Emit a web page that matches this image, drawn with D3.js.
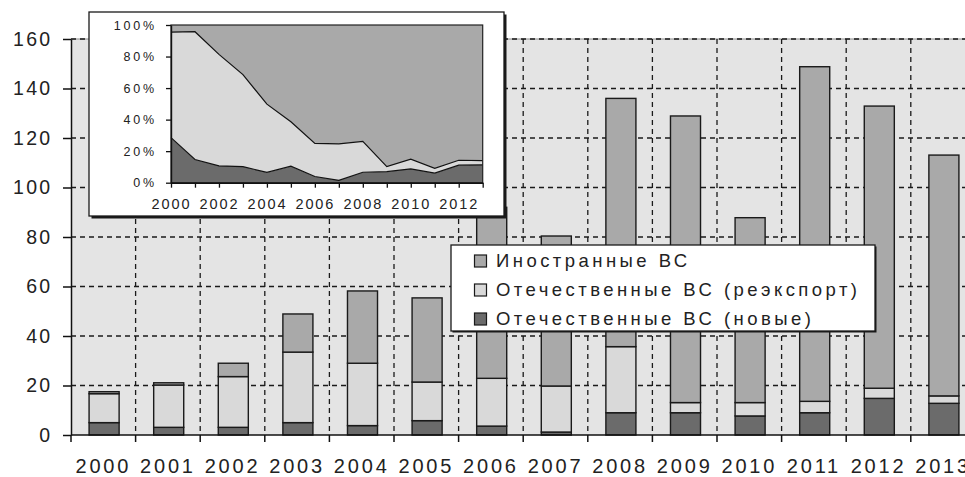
<!DOCTYPE html>
<html>
<head>
<meta charset="utf-8">
<script src="https://cdn.jsdelivr.net/npm/d3@7"></script>
<style>
  body { margin: 0; background: #fff; }
  svg { display: block; font-family: "Liberation Sans", Arial, sans-serif; }
</style>
</head>
<body>
<svg id="graph"></svg>
<script>
// data (aircraft deliveries, units)
var years = ["2000","2001","2002","2003","2004","2005","2006","2007","2008","2009","2010","2011","2012","2013"];
var newDomestic = [5.0, 3.1, 3.1, 5.0, 3.8, 5.8, 3.6, 1.2, 9.0, 9.0, 7.7, 9.0, 14.8, 12.8];
var reexport    = [11.7, 17.1, 20.5, 28.5, 25.2, 15.6, 19.3, 18.6, 26.7, 4.1, 5.4, 4.6, 4.1, 3.0];
var foreign     = [0.8, 0.9, 5.4, 15.4, 29.2, 34.0, 69.1, 60.6, 100.3, 115.8, 74.7, 135.2, 114.0, 97.3];
var yTicks = [0, 20, 40, 60, 80, 100, 120, 140, 160];
var insetYTicks = [0, 0.2, 0.4, 0.6, 0.8, 1];
var insetXLabels = ["2000","2002","2004","2006","2008","2010","2012"];
var legendLabels = ["Иностранные ВС", "Отечественные ВС (реэкспорт)", "Отечественные ВС (новые)"];

var keys = ["newDomestic", "reexport", "foreign"];
var colors = {newDomestic: "#6b6b6b", reexport: "#d9d9d9", foreign: "#a9a9a9"};

var table = years.map(function(y, i) {
  return {year: y, newDomestic: newDomestic[i], reexport: reexport[i], foreign: foreign[i]};
});

var svg = d3.select("#graph")
  .attr("width", 965)
  .attr("height", 477);

// main chart geometry (note: "top" is taken by window.top, so prefixed names)
var pLeft = 71, pTop = 39, pBottom = 435, step = 64.6;
var pRight = pLeft + step * years.length;
var pad = 0.535;

var x = d3.scaleBand().domain(years).range([pLeft, pRight])
  .paddingInner(pad).paddingOuter(pad / 2);
var y = d3.scaleLinear().domain([0, 160]).range([pBottom, pTop]);

var bounds = d3.range(years.length + 1).map(function(i) { return pLeft + i * x.step(); });

// plot background
svg.append("rect")
  .attr("x", pLeft).attr("y", pTop)
  .attr("width", pRight - pLeft).attr("height", pBottom - pTop)
  .attr("fill", "#e4e4e4");
svg.append("line")
  .attr("x1", pLeft).attr("x2", pRight).attr("y1", pTop).attr("y2", pTop)
  .attr("stroke", "#8c8c8c").attr("stroke-width", 1.2);

// dashed grid
var grid = svg.append("g").attr("stroke", "#1a1a1a").attr("stroke-width", 1.3)
  .attr("stroke-dasharray", "5,4");
grid.selectAll(".hg").data(yTicks.slice(1)).enter().append("line")
  .attr("x1", pLeft).attr("x2", pRight)
  .attr("y1", function(d) { return y(d); }).attr("y2", function(d) { return y(d); });
grid.selectAll(".vg").data(bounds.slice(1)).enter().append("line")
  .attr("x1", function(d) { return d; }).attr("x2", function(d) { return d; })
  .attr("y1", pTop).attr("y2", pBottom);

// stacked bars
var stack = d3.stack().keys(keys);
var series = stack(table);

svg.append("g").selectAll("g").data(series).enter().append("g")
  .attr("fill", function(s) { return colors[s.key]; })
  .selectAll("rect").data(function(s) { return s; }).enter().append("rect")
    .attr("x", function(d) { return x(d.data.year) + 0.8; })
    .attr("width", x.bandwidth())
    .attr("y", function(d) { return y(d[1]); })
    .attr("height", function(d) { return y(d[0]) - y(d[1]); })
    .attr("stroke", "#1a1a1a")
    .attr("stroke-width", 1.4);

// y axis
var yAxis = svg.append("g")
  .attr("transform", "translate(" + pLeft + ",0)")
  .call(d3.axisLeft(y).tickValues(yTicks).tickSizeInner(8).tickSizeOuter(0).tickPadding(10.5));
yAxis.select(".domain").attr("stroke", "#111").attr("stroke-width", 1.5);
yAxis.selectAll(".tick line").attr("stroke", "#111").attr("stroke-width", 1.5);
yAxis.selectAll("text")
  .attr("font-size", 19.5).attr("fill", "#222")
  .attr("font-family", "Liberation Sans, Arial, sans-serif")
  .style("letter-spacing", "2.3px");

// x axis: labels at band centres, ticks on band boundaries
var xAxis = svg.append("g")
  .attr("transform", "translate(0," + pBottom + ")")
  .call(d3.axisBottom(x).tickSize(0).tickPadding(23.5));
xAxis.select(".domain").remove();
xAxis.selectAll("text")
  .attr("font-size", 20).attr("fill", "#222")
  .attr("font-family", "Liberation Sans, Arial, sans-serif")
  .style("letter-spacing", "2.8px");
svg.append("line")
  .attr("x1", pLeft).attr("x2", pRight).attr("y1", pBottom).attr("y2", pBottom)
  .attr("stroke", "#111").attr("stroke-width", 1.5);
svg.append("g").selectAll("line").data(bounds).enter().append("line")
  .attr("x1", function(d) { return d; }).attr("x2", function(d) { return d; })
  .attr("y1", pBottom).attr("y2", pBottom + 7)
  .attr("stroke", "#111").attr("stroke-width", 1.5);

// ---- inset: shares (100% stacked area) ----
var box = {x: 89, y: 12, w: 415, h: 204};
svg.append("rect")
  .attr("x", box.x + 2.5).attr("y", box.y + 2.5).attr("width", box.w).attr("height", box.h)
  .attr("fill", "#1a1a1a");
svg.append("rect")
  .attr("x", box.x).attr("y", box.y).attr("width", box.w).attr("height", box.h)
  .attr("fill", "#fff").attr("stroke", "#1a1a1a").attr("stroke-width", 1.3);

var ix = d3.scaleLinear().domain([2000, 2013]).range([171, 482.7]);
var iy = d3.scaleLinear().domain([0, 1]).range([182.7, 25]);

var shares = d3.stack().keys(keys).offset(d3.stackOffsetExpand)(table);

var area = d3.area()
  .x(function(d) { return ix(+d.data.year); })
  .y0(function(d) { return iy(d[0]); })
  .y1(function(d) { return iy(d[1]); });
var topLine = d3.line()
  .x(function(d) { return ix(+d.data.year); })
  .y(function(d) { return iy(d[1]); });

var inset = svg.append("g");
inset.selectAll(".ar").data(shares).enter().append("path")
  .attr("d", area)
  .attr("fill", function(s) { return colors[s.key]; });
inset.selectAll(".ln").data(shares.slice(0, 2)).enter().append("path")
  .attr("d", topLine)
  .attr("fill", "none").attr("stroke", "#111").attr("stroke-width", 1.2);
inset.append("rect")
  .attr("x", ix(2000)).attr("y", iy(1))
  .attr("width", ix(2013) - ix(2000)).attr("height", iy(0) - iy(1))
  .attr("fill", "none").attr("stroke", "#222").attr("stroke-width", 1.2);

var iyAxis = inset.append("g")
  .attr("transform", "translate(" + ix(2000) + ",0)")
  .call(d3.axisLeft(iy).tickValues(insetYTicks).tickFormat(d3.format(".0%"))
    .tickSizeInner(5).tickSizeOuter(0).tickPadding(9));
iyAxis.select(".domain").attr("stroke", "#111").attr("stroke-width", 1.4);
iyAxis.selectAll(".tick line").attr("stroke", "#111").attr("stroke-width", 1.3);
iyAxis.selectAll("text")
  .attr("font-size", 12.5).attr("fill", "#222")
  .attr("font-family", "Liberation Sans, Arial, sans-serif")
  .style("letter-spacing", "2.8px");

var ixAxis = inset.append("g")
  .attr("transform", "translate(0," + iy(0) + ")")
  .call(d3.axisBottom(ix).tickValues(d3.range(2000, 2014)).tickSizeInner(5).tickSizeOuter(0)
    .tickFormat(function(d) { return insetXLabels.indexOf(String(d)) >= 0 ? String(d) : ""; })
    .tickPadding(11));
ixAxis.select(".domain").attr("stroke", "#111").attr("stroke-width", 1.4);
ixAxis.selectAll(".tick line").attr("stroke", "#111").attr("stroke-width", 1.3);
ixAxis.selectAll("text")
  .attr("font-size", 14.5).attr("fill", "#222")
  .attr("font-family", "Liberation Sans, Arial, sans-serif")
  .style("letter-spacing", "1.9px");

// ---- legend ----
var lg = svg.append("g").attr("transform", "translate(451,245)");
lg.append("rect")
  .attr("x", 1.5).attr("y", 1.5).attr("width", 424).attr("height", 86)
  .attr("fill", "#1a1a1a");
lg.append("rect")
  .attr("width", 424).attr("height", 86)
  .attr("fill", "#fff").attr("stroke", "#1a1a1a").attr("stroke-width", 1.3);
var legendKeys = ["foreign", "reexport", "newDomestic"];
var item = lg.selectAll(".item").data(legendLabels).enter().append("g")
  .attr("transform", function(d, i) { return "translate(0," + (22 + i * 29) + ")"; });
item.append("rect")
  .attr("x", 23.5).attr("y", -12).attr("width", 12).attr("height", 12)
  .attr("fill", function(d, i) { return colors[legendKeys[i]]; })
  .attr("stroke", "#1a1a1a").attr("stroke-width", 1.2);
item.append("text")
  .attr("x", 45).attr("y", 0)
  .attr("font-size", 18.5).attr("fill", "#222")
  .style("letter-spacing", "3.45px")
  .text(function(d) { return d; });
</script>
</body>
</html>
